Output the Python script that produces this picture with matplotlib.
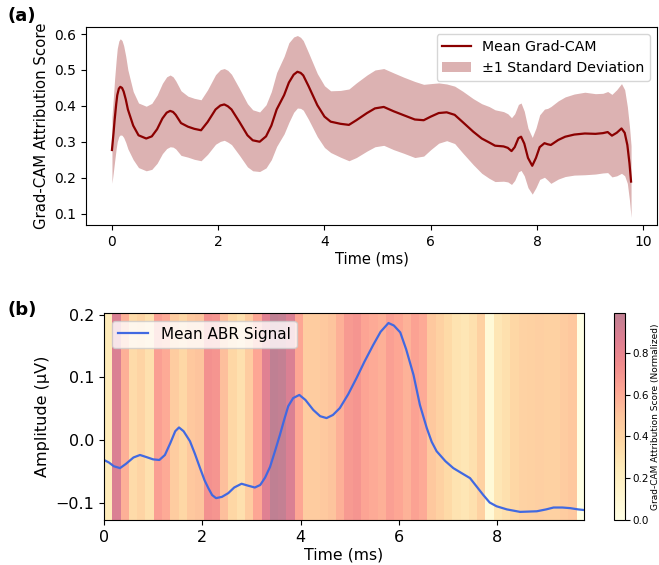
import matplotlib
matplotlib.use("Agg")
import matplotlib.pyplot as plt
import numpy as np

# (a) mean Grad-CAM attribution and its standard deviation
cam_time = [0.00, 0.03, 0.05, 0.08, 0.10, 0.13, 0.157, 0.19, 0.22, 0.26,
            0.30, 0.40, 0.50, 0.645, 0.75, 0.85, 0.95, 1.03, 1.095, 1.15,
            1.20, 1.30, 1.43, 1.55, 1.677, 1.80, 1.95, 2.04, 2.114, 2.18,
            2.25, 2.40, 2.55, 2.65, 2.78, 2.90, 3.00, 3.10, 3.24, 3.33,
            3.42, 3.49, 3.55, 3.60, 3.70, 3.865, 4.00, 4.116, 4.30, 4.46,
            4.60, 4.80, 4.95, 5.116, 5.30, 5.49, 5.70, 5.867, 6.00, 6.15,
            6.30, 6.45, 6.60, 6.80, 6.96, 7.10, 7.21, 7.37, 7.45, 7.52,
            7.58, 7.65, 7.70, 7.76, 7.83, 7.91, 7.98, 8.05, 8.14, 8.20,
            8.26, 8.40, 8.53, 8.70, 8.90, 9.10, 9.24, 9.33, 9.41, 9.50,
            9.59, 9.65, 9.70, 9.74, 9.77]
cam_mean = [0.277, 0.325, 0.36, 0.405, 0.43, 0.448, 0.453, 0.45, 0.44, 0.418,
            0.39, 0.345, 0.318, 0.309, 0.315, 0.335, 0.365, 0.381, 0.386, 0.383,
            0.375, 0.352, 0.342, 0.336, 0.332, 0.355, 0.39, 0.401, 0.404, 0.399,
            0.39, 0.355, 0.318, 0.304, 0.300, 0.315, 0.345, 0.39, 0.43, 0.465,
            0.487, 0.495, 0.492, 0.485, 0.455, 0.402, 0.37, 0.356, 0.35, 0.347,
            0.36, 0.38, 0.393, 0.397, 0.385, 0.374, 0.362, 0.36, 0.37, 0.38,
            0.382, 0.375, 0.355, 0.328, 0.309, 0.298, 0.289, 0.287, 0.283, 0.274,
            0.285, 0.31, 0.314, 0.295, 0.255, 0.233, 0.255, 0.285, 0.296, 0.293,
            0.291, 0.305, 0.314, 0.32, 0.323, 0.322, 0.324, 0.327, 0.317, 0.325,
            0.337, 0.325, 0.291, 0.24, 0.189]
cam_std = [0.093, 0.105, 0.115, 0.124, 0.13, 0.133, 0.134, 0.132, 0.128, 0.12,
           0.11, 0.095, 0.09, 0.09, 0.092, 0.095, 0.098, 0.10, 0.10, 0.098,
           0.095, 0.09, 0.085, 0.085, 0.085, 0.09, 0.097, 0.10, 0.10, 0.10,
           0.098, 0.093, 0.088, 0.085, 0.083, 0.088, 0.095, 0.103, 0.108, 0.111,
           0.105, 0.101, 0.099, 0.097, 0.093, 0.088, 0.086, 0.086, 0.093, 0.10,
           0.104, 0.106, 0.107, 0.107, 0.107, 0.106, 0.106, 0.10, 0.092, 0.084,
           0.079, 0.08, 0.086, 0.092, 0.097, 0.10, 0.10, 0.097, 0.095, 0.093,
           0.093, 0.094, 0.094, 0.09, 0.083, 0.079, 0.083, 0.09, 0.095, 0.10,
           0.107, 0.109, 0.111, 0.113, 0.115, 0.112, 0.111, 0.113, 0.115, 0.12,
           0.125, 0.12, 0.107, 0.103, 0.10]

# (b) mean ABR waveform
abr_time = [0.00, 0.10, 0.20, 0.326, 0.45, 0.60, 0.733, 0.85, 1.00, 1.127,
            1.24, 1.35, 1.45, 1.527, 1.62, 1.75, 1.85, 1.955, 2.05, 2.124,
            2.20, 2.28, 2.40, 2.53, 2.65, 2.80, 2.93, 3.07, 3.18, 3.28,
            3.38, 3.48, 3.58, 3.67, 3.75, 3.85, 3.976, 4.10, 4.26, 4.40,
            4.53, 4.66, 4.80, 4.97, 5.14, 5.30, 5.48, 5.63, 5.79, 5.90,
            6.03, 6.15, 6.30, 6.43, 6.57, 6.67, 6.77, 6.95, 7.11, 7.30,
            7.45, 7.60, 7.72, 7.85, 7.99, 8.20, 8.47, 8.81, 9.00, 9.15,
            9.33, 9.49, 9.65, 9.77]
abr_signal = [-0.032, -0.036, -0.042, -0.045, -0.038, -0.028, -0.024, -0.027, -0.031, -0.032,
              -0.024, -0.005, 0.014, 0.020, 0.014, -0.002, -0.022, -0.045, -0.065, -0.077,
              -0.088, -0.093, -0.091, -0.085, -0.076, -0.070, -0.073, -0.076, -0.072, -0.060,
              -0.043, -0.018, 0.008, 0.033, 0.054, 0.067, 0.072, 0.064, 0.048, 0.038,
              0.035, 0.040, 0.051, 0.073, 0.099, 0.125, 0.152, 0.173, 0.187, 0.183,
              0.172, 0.145, 0.104, 0.056, 0.019, -0.003, -0.018, -0.034, -0.045, -0.054,
              -0.061, -0.076, -0.088, -0.100, -0.106, -0.111, -0.115, -0.114, -0.111, -0.108,
              -0.108, -0.109, -0.111, -0.112]

# normalised Grad-CAM per time bin (background stripes)
cam_bins = [0.25, 0.88, 0.58, 0.35, 0.40, 0.32, 0.65, 0.60, 0.45, 0.38,
            0.48, 0.50, 0.72, 0.70, 0.52, 0.38, 0.32, 0.45, 0.62, 0.85,
            0.99, 0.97, 0.88, 0.62, 0.45, 0.45, 0.47, 0.50, 0.58, 0.68,
            0.70, 0.63, 0.60, 0.58, 0.65, 0.62, 0.57, 0.64, 0.60, 0.48,
            0.42, 0.36, 0.30, 0.28, 0.32, 0.42, 0.08, 0.28, 0.32, 0.38,
            0.41, 0.42, 0.43, 0.42, 0.42, 0.45, 0.48, 0.00]

t_end = 9.77
y_lo, y_hi = -0.128, 0.203

fig = plt.figure(figsize=(6.59, 5.65), dpi=100)

# ---- panel (a)
ax1 = fig.add_axes([0.1305, 0.6018, 0.8665, 0.3499])
m = np.array(cam_mean)
s = np.array(cam_std)
ax1.plot(cam_time, m, color='darkred', lw=1.6, label='Mean Grad-CAM')
ax1.fill_between(cam_time, m - s, m + s, color='darkred', alpha=0.3,
                 lw=0, label='±1 Standard Deviation')
ax1.set_ylim(0.068, 0.619)
ax1.set_xlabel('Time (ms)', fontsize=10.5, labelpad=2)
ax1.set_ylabel('Grad-CAM Attribution Score', fontsize=10.7)
ax1.tick_params(labelsize=10)
ax1.legend(loc='upper right', fontsize=10.2)

# ---- panel (b)
ax2 = fig.add_axes([0.1578, 0.0796, 0.7284, 0.3664])
im = ax2.imshow(np.array(cam_bins)[np.newaxis, :], cmap='YlOrRd', alpha=0.5,
                aspect='auto', interpolation='nearest',
                extent=[0, t_end, y_lo, y_hi])
ax2.plot(abr_time, abr_signal, color='royalblue', lw=1.6, label='Mean ABR Signal')
ax2.set_xlim(0, t_end)
ax2.set_ylim(y_lo, y_hi)
ax2.set_xlabel('Time (ms)', fontsize=11.3, labelpad=2)
ax2.set_ylabel('Amplitude (μV)', fontsize=11.5)
ax2.tick_params(labelsize=11.5)
ax2.legend(loc='upper left', fontsize=11)

cax = fig.add_axes([0.9317, 0.0796, 0.0167, 0.3664])
cb = fig.colorbar(im, cax=cax)
cb.set_label('Grad-CAM Attribution Score (Normalized)', fontsize=6.5, labelpad=1)
cb.ax.tick_params(labelsize=7.5, pad=2)

fig.text(0.012, 0.988, '(a)', fontsize=13, fontweight='bold', va='top')
fig.text(0.012, 0.468, '(b)', fontsize=13, fontweight='bold', va='top')

fig.savefig('out.png', dpi=100)
